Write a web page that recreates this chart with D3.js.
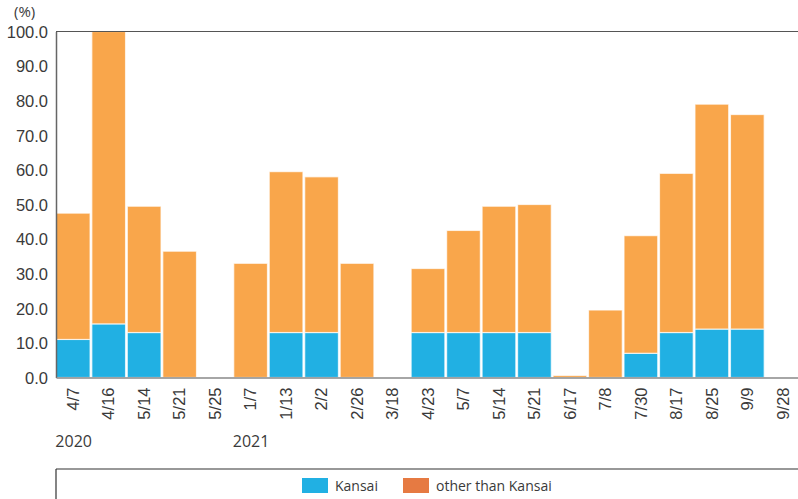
<!DOCTYPE html>
<html>
<head>
<meta charset="utf-8">
<script src="https://cdn.jsdelivr.net/npm/d3@7"></script>
<style>
  body { margin: 0; background: #fff; }
  svg { display: block; font-family: "Open Sans", "Noto Sans", sans-serif; }
</style>
</head>
<body>
<div class="chart"></div>
<script>
// data
var dates = ["4/7", "4/16", "5/14", "5/21", "5/25", "1/7", "1/13", "2/2", "2/26", "3/18",
             "4/23", "5/7", "5/14", "5/21", "6/17", "7/8", "7/30", "8/17", "8/25", "9/9", "9/28"];
var kansai = [11.0, 15.5, 13.0, 0, 0, 0, 13.0, 13.0, 0, 0,
              13.0, 13.0, 13.0, 13.0, 0, 0, 7.0, 13.0, 14.0, 14.0, 0];
var other = [36.5, 84.5, 36.5, 36.5, 0, 33.0, 46.5, 45.0, 33.0, 0,
             18.5, 29.5, 36.5, 37.0, 0.6, 19.5, 34.0, 46.0, 65.0, 62.0, 0];
var years = [{ label: "2020", at: 0 }, { label: "2021", at: 5 }];
var yTicks = [0, 10, 20, 30, 40, 50, 60, 70, 80, 90, 100];
var seriesNames = ["Kansai", "other than Kansai"];

var svgW = 798, svgH = 499;
var margin = { top: 31.5, left: 56, right: -2, bottom: 121.5 };
var plotBottom = svgH - margin.bottom;

var svg = d3.select(".chart").append("svg")
    .attr("width", svgW)
    .attr("height", svgH);

var rows = dates.map(function(d, i) {
    return { idx: i, date: d, kansai: kansai[i], other: other[i] };
});

var x = d3.scaleBand()
    .domain(d3.range(dates.length))
    .range([margin.left, svgW - margin.right])
    .paddingInner(0.05)
    .paddingOuter(0.01);

var y = d3.scaleLinear()
    .domain([0, 100])
    .range([plotBottom, margin.top]);

var stack = d3.stack().keys(["kansai", "other"]);
var layers = stack(rows);
var fills = { kansai: "#21b0e3", other: "#f9a64b" };

svg.append("g").selectAll("g")
    .data(layers)
    .join("g")
    .attr("fill", function(d) { return fills[d.key]; })
    .selectAll("rect")
    .data(function(d) { return d; })
    .join("rect")
    .attr("x", function(d) { return x(d.data.idx); })
    .attr("width", x.bandwidth())
    .attr("y", function(d) { return y(d[1]); })
    .attr("height", function(d) { return Math.max(0, y(d[0]) - y(d[1])); })
    .attr("stroke", "#fff")
    .attr("stroke-opacity", function(d) { return d[1] - d[0] > 0 ? 0.7 : 0; })
    .attr("stroke-width", 1.2);

// top frame line
svg.append("line")
    .attr("x1", margin.left).attr("x2", svgW)
    .attr("y1", margin.top).attr("y2", margin.top)
    .attr("stroke", "#555").attr("stroke-width", 1.2);

// y axis
var yAxis = d3.axisLeft(y)
    .tickValues(yTicks)
    .tickFormat(d3.format(".1f"))
    .tickSize(0)
    .tickPadding(8);
var gy = svg.append("g")
    .attr("transform", "translate(" + margin.left + ",0)")
    .call(yAxis);
gy.select(".domain").attr("stroke", "#666").attr("stroke-width", 1.5);
gy.selectAll("text")
    .attr("fill", "#3a3a3a")
    .attr("font-size", 16.5)
    .attr("dy", "0.35em");

// x axis
var xAxis = d3.axisBottom(x)
    .tickFormat(function(i) { return dates[i]; })
    .tickSize(0)
    .tickPadding(0);
var gx = svg.append("g")
    .attr("transform", "translate(0," + plotBottom + ")")
    .call(xAxis);
gx.select(".domain").attr("stroke", "#888").attr("stroke-width", 1.5);
gx.selectAll("text")
    .attr("fill", "#3a3a3a")
    .attr("font-size", 16.5)
    .attr("transform", "rotate(-90)")
    .attr("text-anchor", "end")
    .attr("x", -10)
    .attr("y", 0)
    .attr("dy", "0.35em");

// unit label
svg.append("text")
    .attr("x", 14).attr("y", 17)
    .attr("fill", "#3a3a3a")
    .attr("font-size", 15)
    .text("(%)");

// year labels
svg.selectAll(".year")
    .data(years)
    .join("text")
    .attr("class", "year")
    .attr("x", function(d) { return x(d.at) - 1; })
    .attr("y", 447)
    .attr("fill", "#3a3a3a")
    .attr("font-size", 16)
    .text(function(d) { return d.label; });

// legend box
svg.append("line")
    .attr("x1", margin.left).attr("x2", svgW)
    .attr("y1", 469).attr("y2", 469)
    .attr("stroke", "#333").attr("stroke-width", 1.2);
svg.append("line")
    .attr("x1", margin.left).attr("x2", margin.left)
    .attr("y1", 469).attr("y2", svgH)
    .attr("stroke", "#333").attr("stroke-width", 1.2);

var legendColors = ["#21b0e3", "#e67a42"];
var legendX = [302, 403];
var legend = svg.selectAll(".legend")
    .data(seriesNames)
    .join("g")
    .attr("class", "legend")
    .attr("transform", function(d, i) { return "translate(" + legendX[i] + ",478)"; });
legend.append("rect")
    .attr("width", 26).attr("height", 15)
    .attr("fill", function(d, i) { return legendColors[i]; });
legend.append("text")
    .attr("x", 33).attr("y", 13)
    .attr("fill", "#3a3a3a")
    .attr("font-size", 14)
    .text(function(d) { return d; });
</script>
</body>
</html>
